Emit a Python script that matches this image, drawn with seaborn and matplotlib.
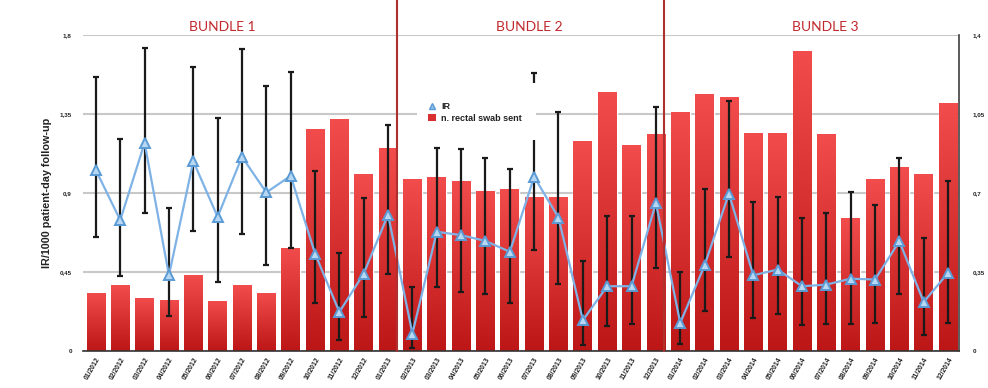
import numpy as np
import pandas as pd
import matplotlib
matplotlib.use("Agg")
import matplotlib.pyplot as plt
import seaborn as sns
from matplotlib.lines import Line2D
from matplotlib.patches import Patch, Rectangle
from matplotlib.colors import LinearSegmentedColormap

# ---- data -------------------------------------------------------------
months = [
    "01/2012", "02/2012", "03/2012", "04/2012", "05/2012", "06/2012",
    "07/2012", "08/2012", "09/2012", "10/2012", "11/2012", "12/2012",
    "01/2013", "02/2013", "03/2013", "04/2013", "05/2013", "06/2013",
    "07/2013", "08/2013", "09/2013", "10/2013", "11/2013", "12/2013",
    "01/2014", "02/2014", "03/2014", "04/2014", "05/2014", "06/2014",
    "07/2014", "08/2014", "09/2014", "10/2014", "11/2014", "12/2014",
]

# rectal swabs sent (right axis)
swabs = [0.257, 0.291, 0.236, 0.228, 0.335, 0.222, 0.291, 0.257, 0.457,
         0.983, 1.026, 0.783, 0.899, 0.763, 0.770, 0.754, 0.711, 0.719,
         0.683, 0.683, 0.931, 1.146, 0.911, 0.961, 1.060, 1.139, 1.124,
         0.967, 0.967, 1.331, 0.961, 0.591, 0.761, 0.813, 0.783, 1.097]

# infection rate per 1000 patient-days (left axis) with confidence bounds
ir = [1.030, 0.745, 1.186, 0.431, 1.081, 0.764, 1.106, 0.903, 0.998,
      0.555, 0.222, 0.441, 0.777, 0.099, 0.679, 0.660, 0.627, 0.565,
      0.992, 0.760, 0.175, 0.369, 0.369, 0.844, 0.160, 0.488, 0.897,
      0.431, 0.464, 0.369, 0.378, 0.412, 0.407, 0.625, 0.279, 0.445]
ir_low = [0.650, 0.428, 0.787, 0.200, 0.684, 0.392, 0.669, 0.492, 0.584,
          0.274, 0.061, 0.194, 0.441, 0.019, 0.365, 0.336, 0.327, 0.274,
          0.574, 0.380, 0.036, 0.144, 0.152, 0.475, 0.038, 0.226, 0.536,
          0.190, 0.209, 0.146, 0.152, 0.152, 0.160, 0.327, 0.089, 0.162]
ir_high = [1.562, 1.207, 1.728, 0.812, 1.619, 1.325, 1.718, 1.509, 1.591,
           1.023, 0.559, 0.869, 1.287, 0.365, 1.159, 1.152, 1.097, 1.034,
           1.581, 1.363, 0.513, 0.770, 0.768, 1.388, 0.450, 0.924, 1.426,
           0.850, 0.878, 0.760, 0.787, 0.903, 0.834, 1.099, 0.641, 0.969]

left_ticks = [0, 0.45, 0.9, 1.35, 1.8]
left_labels = ["0", "0,45", "0,9", "1,35", "1,8"]
right_ticks = [0, 0.35, 0.7, 1.05, 1.4]
right_labels = ["0", "0,35", "0,7", "1,05", "1,4"]

bundles = ["BUNDLE 1", "BUNDLE 2", "BUNDLE 3"]

# ---- style ------------------------------------------------------------
sns.set_theme(style="white")
plt.rcParams["font.family"] = ["Liberation Sans", "DejaVu Sans"]

W, H = 988, 388
fig = plt.figure(figsize=(W / 100, H / 100), dpi=100)
fig.patch.set_facecolor("white")
ax = fig.add_axes([83 / W, 1 - 351 / H, 876 / W, 316 / H])

# bars (right-hand scale)
df = pd.DataFrame({"month": months, "swabs": swabs})
sns.barplot(data=df, x="month", y="swabs", ax=ax, color="#d83030",
            width=0.77, saturation=1, zorder=2)

ax.set_xlim(-0.53, 35.45)
ax.set_ylim(0, 1.4)

# vertical red gradient inside each bar
cmap = LinearSegmentedColormap.from_list("barred", ["#bc1616", "#f24c4c"])
grad = np.linspace(0, 1, 256).reshape(-1, 1)
for p in list(ax.patches):
    x0, y0 = p.get_x(), p.get_y()
    w, h = p.get_width(), p.get_height()
    im = ax.imshow(grad, extent=[x0, x0 + w, y0, y0 + h], origin="lower",
                   cmap=cmap, aspect="auto", zorder=2.1, interpolation="bilinear")
    im.set_clip_path(p)
ax.set_xlim(-0.53, 35.45)
ax.set_ylim(0, 1.4)
ax.set_aspect("auto")

ax.set_xticks(range(len(months)))
ax.set_xticklabels(months, rotation=60, ha="right", rotation_mode="anchor",
                   fontsize=4.9, fontweight="bold", color="#222222")
ax.tick_params(axis="x", length=0, pad=4)
ax.set_xlabel("")
ax.set_ylabel("")
ax.grid(axis="y", color="#c8c8c8", lw=1.5, zorder=0)
ax.grid(axis="x", visible=False)
ax.set_axisbelow(True)
for s in ("top", "left"):
    ax.spines[s].set_visible(False)
ax.spines["right"].set_color("#404040")
ax.spines["right"].set_linewidth(1.2)
ax.spines["bottom"].set_color("#333333")
ax.spines["bottom"].set_linewidth(1.2)

# infection rate line with error bars (left-hand scale)
ax2 = ax.twinx()
x = np.arange(len(months))
ir_a = np.array(ir)
yerr = [ir_a - np.array(ir_low), np.array(ir_high) - ir_a]
ax2.errorbar(x, ir_a, yerr=yerr, fmt="none", ecolor="#1a1a1a",
             elinewidth=1.6, capsize=2.4, capthick=1.6, zorder=3)
sns.lineplot(x=x, y=ir_a, ax=ax2, color="#7fb2e5", lw=1.6, marker="^",
             markersize=7.5, markerfacecolor="#b8d7f3", markeredgecolor="#5b9bd5",
             markeredgewidth=1.4, zorder=4)
ax2.set_ylim(0, 1.8)
ax2.set_xlim(-0.53, 35.45)

# swab scale on the right, IR scale on the left
ax.yaxis.tick_right()
ax.set_yticks(right_ticks)
ax.set_yticklabels(right_labels, fontsize=4.5, fontweight="bold", color="#222222")
ax.tick_params(axis="y", which="both", left=False, right=True, labelleft=False,
               labelright=True, length=0, pad=10)

ax2.yaxis.tick_left()
ax2.yaxis.set_label_position("left")
ax2.set_yticks(left_ticks)
ax2.set_yticklabels(left_labels, fontsize=4.5, fontweight="bold", color="#222222")
ax2.tick_params(axis="y", which="both", left=True, right=False, labelleft=True,
                labelright=False, length=0, pad=8)
ax2.set_ylabel("IR/1000 patient-day follow-up", fontsize=7.8,
               fontweight="bold", color="#222222")
ax2.yaxis.set_label_coords((52 - 83) / 876, 0.5)
for s in ax2.spines.values():
    s.set_visible(False)

# bundle separators reaching above the plot
for xv in (12.35, 23.35):
    ax2.axvline(xv, ymin=0, ymax=351 / 316, color="#b03030", lw=1.5,
                clip_on=False, zorder=5)

for label, cx in zip(bundles, (222, 529, 825)):
    fig.text(cx / W, 1 - 27 / H, label, ha="center", va="center",
             color="#c0282d", fontsize=10, family=["Lato", "DejaVu Sans"])

# legend on a white panel
panel = Rectangle((417 / W, 1 - 140 / H), 119 / W, 57 / H,
                  transform=fig.transFigure, facecolor="white",
                  edgecolor="none", zorder=6, clip_on=False)
ax2.add_artist(panel)
handles = [
    Line2D([], [], marker="^", ls="none", markersize=5,
           markerfacecolor="#8fbde8", markeredgecolor="#5b9bd5"),
    Patch(facecolor="#d83030", edgecolor="none"),
]
leg = ax2.legend(handles, ["IR", "n. rectal swab sent"],
                 loc="center left", bbox_to_anchor=(423 / W, 1 - 112.5 / H),
                 bbox_transform=fig.transFigure, frameon=False, borderpad=0,
                 handlelength=0.9, handleheight=0.9, handletextpad=0.6,
                 labelspacing=0.3, prop={"size": 6.5, "weight": "bold"})
leg.set_zorder(7)
for t in leg.get_texts():
    t.set_color("#222222")

fig.savefig("out.png", dpi=100)
